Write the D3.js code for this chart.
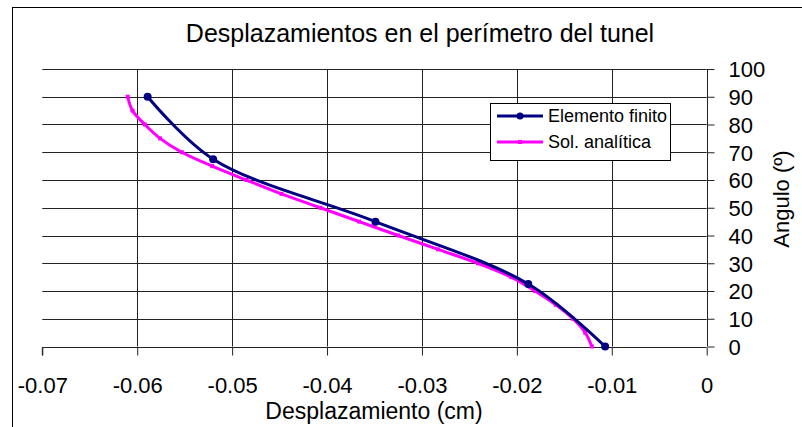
<!DOCTYPE html>
<html><head><meta charset="utf-8">
<script src="https://cdn.jsdelivr.net/npm/d3@7"></script>
<style>html,body{margin:0;padding:0;background:#fff}svg{display:block}</style>
</head><body>
<svg id="c" width="802" height="427"></svg>
<script>
// Data
const feAngles = [90, 67.5, 45, 22.5, 0];
const feDisp = [-0.0589, -0.0520, -0.0349, -0.0188, -0.0107];
const anaAngles = [90, 85, 80, 75, 70, 65, 60, 55, 50, 45, 40, 35, 30, 25, 20, 15, 10, 5, 0];
const anaDisp = [-0.0610, -0.0605, -0.0592, -0.0576, -0.0553, -0.0521, -0.0485, -0.0448, -0.0407, -0.0366, -0.0325, -0.0283, -0.0241, -0.0206, -0.0181, -0.0159, -0.0141, -0.0128, -0.0121];
const xTicks = [-0.07, -0.06, -0.05, -0.04, -0.03, -0.02, -0.01, 0];
const yTicks = [0, 10, 20, 30, 40, 50, 60, 70, 80, 90, 100];
const seriesNames = ["Elemento finito", "Sol. analítica"];
const title = "Desplazamientos en el perímetro del tunel";
const xTitle = "Desplazamiento (cm)";
const yTitle = "Angulo (º)";

const svg = d3.select("#c");
const font = "'Liberation Sans', Arial, sans-serif";
const x = d3.scaleLinear().domain([-0.07, 0]).range([42.3, 706.7]);
const y = d3.scaleLinear().domain([0, 100]).range([346.5, 69]);

// outer border (left & top visible)
svg.append("rect").attr("x", 12.5).attr("y", 7.5).attr("width", 800).attr("height", 430)
  .attr("fill", "none").attr("stroke", "#000").attr("stroke-width", 1);

// gridlines
const g = svg.append("g");
g.selectAll("line.h").data(yTicks.filter(d => d > 0)).join("line")
  .attr("x1", x(-0.07)).attr("x2", x(0))
  .attr("y1", d => Math.round(y(d)) + 0.5).attr("y2", d => Math.round(y(d)) + 0.5)
  .attr("stroke", "#222").attr("stroke-width", 1);
g.selectAll("line.v").data(xTicks.filter(d => d > -0.07 && d < 0)).join("line")
  .attr("y1", y(0)).attr("y2", y(100))
  .attr("x1", d => Math.round(x(d)) + 0.5).attr("x2", d => Math.round(x(d)) + 0.5)
  .attr("stroke", "#222").attr("stroke-width", 1);

// x axis
const xAxis = d3.axisBottom(x).tickValues(xTicks).tickSize(8).tickFormat(d => d === 0 ? "0" : d3.format(".2f")(d).replace("−", "-"));
const xa = svg.append("g").attr("transform", `translate(0,${Math.round(y(0)) + 0.5})`).call(xAxis);
xa.select(".domain").attr("stroke", "#222").attr("d", `M${x(-0.07)},8V0H${x(0)}`);
xa.selectAll(".tick line").attr("stroke", "#222");
xa.selectAll(".tick text").attr("font-family", font).attr("font-size", 22).attr("fill", "#000")
  .attr("y", 0).attr("dy", 45);

// y axis (right)
const yAxis = d3.axisRight(y).tickValues(yTicks).tickSize(7).tickFormat(d3.format("d"));
const ya = svg.append("g").attr("transform", `translate(${Math.round(x(0)) + 0.5},0)`).call(yAxis);
ya.select(".domain").attr("stroke", "#222").attr("d", `M0,${y(100)}V${y(0)}`);
ya.selectAll(".tick line").attr("stroke", "#222");
ya.selectAll(".tick text").attr("font-family", font).attr("font-size", 22).attr("fill", "#000")
  .attr("x", 21).attr("dy", "0.36em");

// series
const lineFE = d3.line().x((d, i) => x(feDisp[i])).y(d => y(d)).curve(d3.curveCatmullRom.alpha(0.5));
const lineA = d3.line().x((d, i) => x(anaDisp[i])).y(d => y(d)).curve(d3.curveCatmullRom.alpha(0.5));
svg.append("path").attr("d", lineA(anaAngles)).attr("fill", "none")
  .attr("stroke", "#ff00ff").attr("stroke-width", 3).attr("stroke-linejoin", "round");
svg.selectAll("rect.am").data(anaAngles).join("rect")
  .attr("x", (d, i) => x(anaDisp[i]) - 2).attr("y", d => y(d) - 2)
  .attr("width", 4).attr("height", 4).attr("fill", "#ff00ff");
svg.append("path").attr("d", lineFE(feAngles)).attr("fill", "none")
  .attr("stroke", "#000080").attr("stroke-width", 3).attr("stroke-linejoin", "round");
svg.selectAll("circle.fm").data(feAngles).join("circle")
  .attr("cx", (d, i) => x(feDisp[i])).attr("cy", d => y(d)).attr("r", 4).attr("fill", "#000080");

// titles
svg.append("text").attr("x", 420).attr("y", 42).attr("text-anchor", "middle")
  .attr("font-family", font).attr("font-size", 25).text(title);
svg.append("text").attr("x", 374).attr("y", 419).attr("text-anchor", "middle")
  .attr("font-family", font).attr("font-size", 23).text(xTitle);
svg.append("text").attr("transform", "translate(789,199) rotate(-90)").attr("text-anchor", "middle")
  .attr("font-family", font).attr("font-size", 22).text(yTitle);

// legend
const lg = svg.append("g");
lg.append("rect").attr("x", 490.5).attr("y", 103.5).attr("width", 180).attr("height", 57)
  .attr("fill", "#fff").attr("stroke", "#000").attr("stroke-width", 1);
const lc = ["#000080", "#ff00ff"];
const ly = [116, 142];
seriesNames.forEach((n, i) => {
  lg.append("line").attr("x1", 497).attr("x2", 543).attr("y1", ly[i]).attr("y2", ly[i])
    .attr("stroke", lc[i]).attr("stroke-width", 3);
  if (i === 0) lg.append("circle").attr("cx", 520).attr("cy", ly[i]).attr("r", 3.5).attr("fill", lc[i]);
  else lg.append("rect").attr("x", 518).attr("y", ly[i] - 2).attr("width", 4).attr("height", 4).attr("fill", lc[i]);
  lg.append("text").attr("x", 548).attr("y", ly[i]).attr("dy", "0.35em")
    .attr("font-family", font).attr("font-size", 18).text(n);
});
</script>
</body></html>
